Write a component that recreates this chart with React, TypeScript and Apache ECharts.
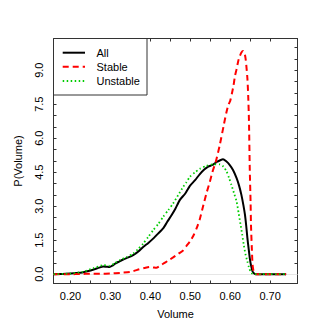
import React, { useEffect, useRef } from "react";
import * as echarts from "echarts";

const allX = [0.158, 0.18, 0.2, 0.215, 0.23, 0.245, 0.26, 0.272, 0.282, 0.29, 0.298, 0.305, 0.312, 0.322, 0.332, 0.345, 0.357, 0.37, 0.382, 0.395, 0.407, 0.42, 0.432, 0.442, 0.453, 0.463, 0.474, 0.487, 0.499, 0.512, 0.524, 0.535, 0.545, 0.556, 0.566, 0.575, 0.582, 0.59, 0.598, 0.607, 0.616, 0.622, 0.628, 0.633, 0.637, 0.64, 0.643, 0.646, 0.649, 0.652, 0.656, 0.66, 0.665, 0.68, 0.7, 0.72, 0.74];
const allY = [0, 0.01, 0.03, 0.05, 0.08, 0.14, 0.22, 0.29, 0.34, 0.33, 0.32, 0.38, 0.47, 0.56, 0.65, 0.74, 0.84, 1.0, 1.2, 1.38, 1.57, 1.8, 2.02, 2.3, 2.6, 2.9, 3.28, 3.55, 3.9, 4.15, 4.42, 4.62, 4.75, 4.82, 4.95, 5.03, 5.07, 4.98, 4.84, 4.6, 4.24, 3.92, 3.5, 3.05, 2.62, 2.15, 1.6, 1.15, 0.71, 0.4, 0.12, 0.03, 0, 0, 0, 0, 0];

const stableX = [0.158, 0.2, 0.225, 0.25, 0.275, 0.3, 0.325, 0.35, 0.373, 0.385, 0.398, 0.407, 0.415, 0.423, 0.432, 0.445, 0.457, 0.47, 0.482, 0.491, 0.499, 0.508, 0.516, 0.524, 0.533, 0.541, 0.549, 0.557, 0.564, 0.574, 0.584, 0.59, 0.595, 0.6, 0.604, 0.608, 0.612, 0.616, 0.62, 0.624, 0.628, 0.632, 0.636, 0.639, 0.643, 0.645, 0.647, 0.649, 0.651, 0.652, 0.654, 0.656, 0.659, 0.662, 0.68, 0.7, 0.72, 0.74];
const stableY = [0, 0, 0.01, 0.02, 0.02, 0.03, 0.06, 0.1, 0.22, 0.27, 0.32, 0.3, 0.28, 0.35, 0.46, 0.6, 0.74, 0.9, 1.05, 1.26, 1.44, 1.71, 2.03, 2.44, 3.06, 3.6, 4.08, 4.6, 4.97, 5.71, 6.59, 7.1, 7.45, 7.65, 7.95, 8.3, 8.75, 9.05, 9.4, 9.62, 9.78, 9.85, 9.75, 9.45, 8.65, 7.9, 6.74, 4.6, 3.2, 2.2, 1.2, 0.41, 0.08, 0, 0, 0, 0, 0];

const unstableX = [0.158, 0.2, 0.23, 0.257, 0.282, 0.298, 0.31, 0.324, 0.34, 0.357, 0.37, 0.382, 0.395, 0.407, 0.42, 0.432, 0.445, 0.457, 0.47, 0.482, 0.49, 0.499, 0.512, 0.524, 0.54, 0.558, 0.574, 0.583, 0.591, 0.597, 0.603, 0.61, 0.616, 0.621, 0.626, 0.63, 0.634, 0.638, 0.643, 0.647, 0.651, 0.655, 0.66, 0.68, 0.7, 0.72, 0.74];
const unstableY = [0, 0.03, 0.1, 0.26, 0.4, 0.37, 0.48, 0.62, 0.75, 0.91, 1.12, 1.35, 1.65, 1.94, 2.22, 2.53, 2.83, 3.12, 3.5, 3.85, 4.05, 4.3, 4.5, 4.65, 4.78, 4.85, 4.85, 4.75, 4.53, 4.25, 3.94, 3.55, 3.21, 2.7, 2.18, 1.75, 1.29, 0.9, 0.56, 0.3, 0.12, 0.03, 0, 0, 0, 0, 0];

const xTicks = [0.2, 0.25, 0.3, 0.35, 0.4, 0.45, 0.5, 0.55, 0.6, 0.65, 0.7];
const xLabels = [0.2, 0.3, 0.4, 0.5, 0.6, 0.7];
const yTicks = [0, 0.5, 1, 1.5, 2, 2.5, 3, 3.5, 4, 4.5, 5, 5.5, 6, 6.5, 7, 7.5, 8, 8.5, 9, 9.5, 10];
const yLabels = [0, 1.5, 3, 4.5, 6, 7.5, 9];

const legendNames = ["All", "Stable", "Unstable"];
const FONT = "Liberation Sans, Arial, sans-serif";
const AXC = "#333";

const zip = (xs: number[], ys: number[]) => xs.map((x, i) => [x, ys[i]]);

export default function App() {
  const ref = useRef<HTMLDivElement>(null);
  useEffect(() => {
    const chart = echarts.init(ref.current!, null, { renderer: "svg" });
    const xBase = {
      type: "value" as const,
      min: 0.1575,
      max: 0.7685,
      splitLine: { show: false },
      axisLine: { show: true, onZero: false, lineStyle: { color: AXC, width: 1 } },
      axisTick: { show: true, inside: true, length: 3, lineStyle: { color: AXC }, customValues: xTicks },
    };
    const yBase = {
      type: "value" as const,
      min: -0.41,
      max: 10.4,
      splitLine: { show: false },
      axisLine: { show: true, onZero: false, lineStyle: { color: AXC, width: 1 } },
      axisTick: { show: true, inside: true, length: 3, lineStyle: { color: AXC }, customValues: yTicks },
    };
    const legendRows = [52.7, 66.7, 81];
    const legendStyles = [
      { stroke: "#000", lineWidth: 2, lineDash: null },
      { stroke: "#ff0000", lineWidth: 2, lineDash: [6, 4] },
      { stroke: "#00cd00", lineWidth: 1.8, lineDash: [1.5, 2.5] },
    ];
    const graphics: any[] = [
      {
        type: "rect",
        shape: { x: 53.5, y: 38.5, width: 93.5, height: 56.5 },
        style: { fill: "#fff", stroke: AXC, lineWidth: 1 },
        z: 100,
      },
    ];
    legendNames.forEach((n, i) => {
      graphics.push({
        type: "line",
        shape: { x1: 62.7, y1: legendRows[i], x2: 85, y2: legendRows[i] },
        style: legendStyles[i],
        z: 101,
      });
      graphics.push({
        type: "text",
        x: 96.5,
        y: legendRows[i],
        style: { text: n, fontSize: 11, fontFamily: FONT, fill: "#000", verticalAlign: "middle", align: "left" },
        z: 101,
      });
    });
    chart.setOption({
      animation: false,
      backgroundColor: "#fff",
      grid: { left: 53.5, right: 34.5, top: 38.5, bottom: 48.5, containLabel: false },
      xAxis: [
        {
          ...xBase,
          position: "bottom",
          name: "Volume",
          nameLocation: "middle",
          nameGap: 25,
          nameTextStyle: { fontSize: 11, fontFamily: FONT, color: "#000" },
          axisLabel: {
            show: true,
            customValues: xLabels,
            fontSize: 11,
            fontFamily: FONT,
            color: "#000",
            margin: 7,
            formatter: (v: number) => v.toFixed(2),
          },
        },
        { ...xBase, position: "top", axisLabel: { show: false } },
      ],
      yAxis: [
        {
          ...yBase,
          position: "left",
          name: "P(Volume)",
          nameLocation: "middle",
          nameGap: 30,
          nameRotate: 90,
          nameTextStyle: { fontSize: 11, fontFamily: FONT, color: "#000" },
          axisLabel: {
            show: true,
            customValues: yLabels,
            rotate: 90,
            fontSize: 11,
            fontFamily: FONT,
            color: "#000",
            margin: 9,
            formatter: (v: number) => v.toFixed(1),
          },
        },
        { ...yBase, position: "right", axisLabel: { show: false } },
      ],
      graphic: graphics,
      series: [
        {
          name: "All",
          type: "line",
          data: zip(allX, allY),
          showSymbol: false,
          smooth: 0.2,
          lineStyle: { color: "#000", width: 2 },
          z: 3,
          markLine: {
            silent: true,
            symbol: ["none", "none"],
            label: { show: false },
            lineStyle: { color: "#e6e6e6", width: 1, type: "solid" },
            data: [{ yAxis: 0 }],
            z: 1,
          },
        },
        {
          name: "Stable",
          type: "line",
          data: zip(stableX, stableY),
          showSymbol: false,
          smooth: 0.2,
          lineStyle: { color: "#ff0000", width: 2, type: [6, 4] },
          z: 4,
        },
        {
          name: "Unstable",
          type: "line",
          data: zip(unstableX, unstableY),
          showSymbol: false,
          smooth: 0.2,
          lineStyle: { color: "#00cd00", width: 1.8, type: [1.5, 2.5] },
          z: 5,
        },
      ],
    });
    return () => chart.dispose();
  }, []);
  return <div ref={ref} style={{ position: "fixed", left: 0, top: 0, width: 332, height: 332 }} />;
}
